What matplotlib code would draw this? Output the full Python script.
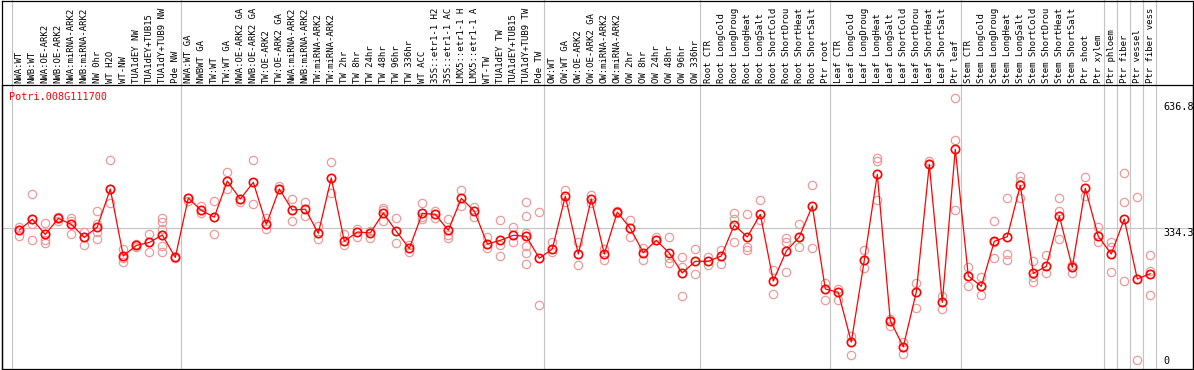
import matplotlib
matplotlib.use("Agg")
import matplotlib.pyplot as plt
from matplotlib.lines import Line2D
from matplotlib.transforms import blended_transform_factory

gene = "Potri.008G111700"

# column labels as they appear in the reference (long names are cut at 14 characters there)
labels = [
    "NWA:WT", "NWB:WT", "NWA:OE-ARK2", "NWB:OE-ARK2", "NWA:miRNA-ARK2", "NWB:miRNA-ARK2",
    "NW 0hr", "WT H2O", "WT-NW", "TUA1dEY NW", "TUA1dEY+TUB15", "TUA1dY+TUB9 NW", "Pde NW",
    "NWA:WT GA", "NWBWT GA", "TW:WT", "TW:WT GA", "NWA:OE-ARK2 GA", "NWB:OE-ARK2 GA",
    "TW:OE-ARK2", "TW:OE-ARK2 GA", "NWA:miRNA-ARK2", "NWB:miRNA-ARK2", "TW:miRNA-ARK2",
    "TW:miRNA-ARK2", "TW 2hr", "TW 8hr", "TW 24hr", "TW 48hr", "TW 96hr", "TW 336hr",
    "WT ACC", "35S::etr1-1 H2", "35S::etr1-1 AC", "LMX5::etr1-1 H", "LMX5::etr1-1 A",
    "WT-TW", "TUA1dEY TW", "TUA1dEY+TUB15", "TUA1dY+TUB9 TW", "Pde TW",
    "OW:WT", "OW:WT GA", "OW:OE-ARK2", "OW:OE-ARK2 GA", "OW:miRNA-ARK2", "OW:miRNA-ARK2",
    "OW 2hr", "OW 8hr", "OW 24hr", "OW 48hr", "OW 96hr", "OW 336hr",
    "Root CTR", "Root LongCold", "Root LongDroug", "Root LongHeat", "Root LongSalt",
    "Root ShortCold", "Root ShortDrou", "Root ShortHeat", "Root ShortSalt", "Ptr root",
    "Leaf CTR", "Leaf LongCold", "Leaf LongDroug", "Leaf LongHeat", "Leaf LongSalt",
    "Leaf ShortCold", "Leaf ShortDrou", "Leaf ShortHeat", "Leaf ShortSalt", "Ptr leaf",
    "Stem CTR", "Stem LongCold", "Stem LongDroug", "Stem LongHeat", "Stem LongSalt",
    "Stem ShortCold", "Stem ShortDrou", "Stem ShortHeat", "Stem ShortSalt", "Ptr shoot",
    "Ptr xylem", "Ptr phloem", "Ptr fiber", "Ptr vessel", "Ptr fiber vess",
]

means = [
    329.6, 355, 319, 357, 343, 312, 336.7, 426.8, 268, 293, 300, 317.7, 264.7,
    405.4, 376, 360, 445.7, 403, 442.6, 343, 426.8, 377, 379, 321.7, 452.9, 302.8,
    324.8, 322.5, 370, 326.4, 286, 369, 366.8, 328.8, 404.7, 374.6, 296.4, 305, 317,
    314.6, 262.5,
    284.5, 409.5, 272.7, 403, 272.7, 372, 333.6, 275.8, 305, 275, 227.6, 255.4,
    255.4, 268, 341.4, 313, 366.8, 208.6, 279.8, 313, 386.5, 189.7,
    181.8, 64, 257.7, 461.6, 114.5, 52.9, 182.6, 485.3, 158, 521,
    220.5, 196, 302.8, 313.7, 435.5, 226.9, 243.5, 362.8, 241, 428.4, 314.6,
    272.7, 355.6, 213.4, 226,
]

replicates = [
    [337, 330, 316], [414, 355, 344, 305], [347, 319, 306, 298], [357, 352, 360],
    [357, 350, 320], [325, 312, 293], [375, 344, 326, 308], [495, 427, 393],
    [285, 262, 254], [293, 290, 296], [320, 300, 277], [359, 349, 331, 318, 292, 278],
    [265, 263],
    [405, 399], [386, 369], [398, 320], [466, 427], [403, 397], [495, 391], [357, 331],
    [434, 427], [403, 350], [396, 362], [338, 308], [490, 417], [319, 295], [332, 312],
    [328, 310], [382, 378, 352], [357, 298], [294, 278], [393, 360, 355], [375, 359],
    [355, 318, 310], [424, 387], [385, 361], [314, 286], [353, 293, 267], [337, 301],
    [395, 362, 322, 292, 274, 249], [372, 152],
    [300, 278], [424, 397], [300, 246], [413, 393], [284, 258], [375, 370], [353, 314],
    [286, 258], [312, 305], [313, 263, 251], [266, 243, 173], [284, 225],
    [266, 247], [281, 249], [371, 355, 300], [367, 290, 283], [401, 353], [235, 177],
    [311, 300, 229], [343, 313, 290], [437, 287], [205, 164],
    [189, 164], [79, 33], [282, 239], [500, 493, 401], [118, 102], [65, 36], [203, 144],
    [493, 485], [173, 142], [642, 542, 377],
    [241, 197], [217, 176], [350, 300, 263], [405, 273, 258], [458, 445, 406],
    [256, 219, 206], [270, 227], [405, 375, 308], [246, 228], [455, 409], [337, 301],
    [300, 290, 229], [465, 395, 208], [408, 21], [270, 233, 176],
]

group_ends = [-1, 12, 40, 52, 62, 72, 83, 84, 85, 86, 87]
ytick_vals = [636.8, 334.3, 0]
ytick_text = ["636.8", "334.3", "0"]

# ---- layout (pixels) ----
W, H = 1194, 370
left_px, right_px = 1.5, 1192.7
top_px, bot_px = 85, 369
col0_px, col_step = 19.3, 13.0
px_per_unit = 1 / 2.371

fig = plt.figure(figsize=(W / 100, H / 100), dpi=100)
ax = fig.add_axes([left_px / W, (H - bot_px) / H, (right_px - left_px) / W, (bot_px - top_px) / H])
ax.set_xlim((left_px - col0_px) / col_step, (right_px - col0_px) / col_step)
ax.set_ylim(0, (bot_px - top_px) / px_per_unit)
ax.set_xticks([])
ax.set_yticks([])
for s in ax.spines.values():
    s.set_color("black")
    s.set_linewidth(0.9)

grey = "#c4c4c4"
ax.axhline(334.3, color=grey, lw=0.8, zorder=1)
ext = 1 + top_px / (bot_px - top_px)
for g in group_ends:
    ax.axvline(g + 0.4, ymin=0, ymax=ext, color=grey, lw=0.8, clip_on=False, zorder=1)

# replicates
rx, ry = [], []
for i, reps in enumerate(replicates):
    for v in reps:
        rx.append(i)
        ry.append(v)
ax.plot(rx, ry, linestyle="none", marker="o", ms=6, mfc="none", mec="#ee9a9a", mew=0.9, zorder=2)

# mean line
xs = list(range(len(means)))
ax.plot(xs, means, color="red", lw=0.9, marker="o", ms=6, mfc="none", mec="red", mew=1.2, zorder=3)

# column labels
tr = blended_transform_factory(ax.transData, ax.transAxes)
for i, lab in enumerate(labels):
    ax.text(i, 1 + 2 / (bot_px - top_px), lab, transform=tr, rotation=90, ha="center", va="bottom",
            fontsize=6.5, family="DejaVu Sans Mono", clip_on=False)

# gene name
fig.text(9.0 / W, 1 - 96.7 / H, gene, color="red", fontsize=7.3, family="DejaVu Sans Mono",
         ha="left", va="center")

# right-hand value labels
tr2 = blended_transform_factory(ax.transAxes, ax.transData)
xl = (1163 - left_px) / (right_px - left_px)
for v, t in zip(ytick_vals, ytick_text):
    if v == 0:
        ax.text(xl, v + 3 / px_per_unit, t, transform=tr2, ha="left", va="bottom", fontsize=7.3,
                family="DejaVu Sans Mono")
    else:
        ax.text(xl, v - (1.5 if v > 600 else 0.3) / px_per_unit, t, transform=tr2, ha="left", va="top",
                fontsize=7.3, family="DejaVu Sans Mono")

# outer border of the image
for (x0, y0, x1, y1) in [(left_px, 0.5, left_px, bot_px), (right_px, 0.5, right_px, bot_px),
                         (left_px, 0.5, right_px, 0.5)]:
    fig.add_artist(Line2D([x0 / W, x1 / W], [1 - y0 / H, 1 - y1 / H], transform=fig.transFigure,
                          color="black", lw=0.9))

fig.savefig("out.png", dpi=100)
